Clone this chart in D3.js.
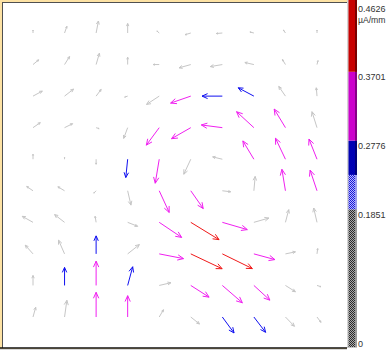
<!DOCTYPE html>
<html>
<head>
<meta charset="utf-8">
<script src="https://cdn.jsdelivr.net/npm/d3@7"></script>
<style>
  html, body { margin: 0; padding: 0; background: #fff; }
  svg { display: block; }
</style>
</head>
<body>
<svg id="chart" width="387" height="350"></svg>
<script>
// Grid of measurement points (mm); rows listed top to bottom
const colX = [1, 2, 3, 4, 5, 6, 7, 8, 9, 10];
const rowY = [10, 9, 8, 7, 6, 5, 4, 3, 2, 1];

// Current density components (µA/mm), u = horizontal, v = vertical (up positive)
const u = [
  [0.000, 0.031, 0.031, 0.000, -0.031, -0.076, -0.080, -0.053, -0.027, 0.000],
  [0.076, 0.067, 0.044, 0.000, -0.080, -0.156, -0.160, -0.120, -0.040, 0.013],
  [0.124, 0.120, 0.067, -0.040, -0.169, -0.269, -0.271, -0.209, -0.089, -0.009],
  [0.097, 0.107, 0.040, -0.053, -0.172, -0.257, -0.280, -0.231, -0.150, -0.067],
  [0.000, 0.000, 0.000, -0.025, -0.053, -0.093, -0.129, -0.147, -0.133, -0.107],
  [-0.084, -0.089, -0.031, 0.044, 0.133, 0.166, 0.111, 0.017, -0.047, -0.092],
  [-0.143, -0.133, -0.013, 0.133, 0.299, 0.377, 0.333, 0.200, 0.044, -0.044],
  [-0.103, -0.080, 0.000, 0.156, 0.324, 0.418, 0.400, 0.280, 0.133, 0.009],
  [0.000, 0.000, 0.000, 0.067, 0.156, 0.244, 0.267, 0.213, 0.133, 0.053],
  [0.036, 0.031, 0.000, 0.000, 0.057, 0.116, 0.156, 0.156, 0.120, 0.053]
];
const v = [
  [0.040, 0.089, 0.160, 0.127, 0.027, -0.023, -0.007, 0.013, 0.040, 0.040],
  [0.063, 0.107, 0.151, 0.097, 0.000, -0.044, -0.027, 0.027, 0.067, 0.053],
  [0.067, 0.093, 0.089, -0.013, -0.111, -0.093, 0.000, 0.111, 0.129, 0.111],
  [0.067, 0.053, -0.013, -0.143, -0.233, -0.147, 0.036, 0.213, 0.248, 0.213],
  [0.067, 0.027, -0.067, -0.244, -0.320, -0.200, 0.031, 0.244, 0.280, 0.269],
  [0.057, 0.053, -0.031, -0.191, -0.289, -0.237, -0.013, 0.191, 0.286, 0.275],
  [0.080, 0.103, 0.080, -0.053, -0.201, -0.231, -0.097, 0.057, 0.169, 0.191],
  [0.116, 0.183, 0.240, 0.124, -0.063, -0.198, -0.196, -0.076, 0.027, 0.071],
  [0.133, 0.240, 0.324, 0.249, 0.036, -0.156, -0.231, -0.196, -0.084, -0.017],
  [0.129, 0.223, 0.329, 0.284, 0.097, -0.093, -0.213, -0.204, -0.124, -0.071]
];

// Colour legend
const legendBreaks = [0, 0.1851, 0.2314, 0.2776, 0.3701, 0.4626];
const tickValues = [0.4626, 0.3701, 0.2776, 0.1851, 0];
const unitLabel = "µA/mm";

const svg = d3.select("#chart");

// Frame: tan window edge, sunken white plot panel
svg.append("rect").attr("x", 0).attr("y", 0).attr("width", 347).attr("height", 350).attr("fill", "#fde2a4");
svg.append("rect").attr("x", 2).attr("y", 2).attr("width", 345).attr("height", 346).attr("fill", "#ffffff");
svg.append("line").attr("x1", 2.5).attr("x2", 2.5).attr("y1", 2).attr("y2", 348).attr("stroke", "#505050").attr("stroke-width", 1);
svg.append("line").attr("x1", 2).attr("x2", 347).attr("y1", 2.5).attr("y2", 2.5).attr("stroke", "#505050").attr("stroke-width", 1);
svg.append("line").attr("x1", 0).attr("x2", 347).attr("y1", 348).attr("y2", 348).attr("stroke", "#111").attr("stroke-width", 1.5);
svg.append("rect").attr("x", 0).attr("y", 349).attr("width", 347).attr("height", 1).attr("fill", "#d8d8d8");

// Scales
const x = d3.scaleLinear().domain([1, 10]).range([33, 317]);
const y = d3.scaleLinear().domain([1, 10]).range([317, 33]);
const len = d3.scaleLinear().domain([0, 1]).range([0, 75]);
const colour = d3.scaleThreshold()
  .domain([0.2314, 0.2776, 0.3701])
  .range(["#c6c6c6", "#1010f0", "#f020f0", "#f01818"]);

// Flatten the grid
const vectors = [];
rowY.forEach((ry, r) => {
  colX.forEach((cx, c) => {
    const mag = Math.hypot(u[r][c], v[r][c]);
    vectors.push({ x0: x(cx), y0: y(ry), u: u[r][c], v: v[r][c], mag });
  });
});

function arrowPath(d) {
  const L = len(d.mag);
  if (L === 0) return "";
  const ang = Math.atan2(-d.v, d.u);
  const x1 = d.x0 + L * Math.cos(ang);
  const y1 = d.y0 + L * Math.sin(ang);
  const h = Math.min(6.5, L * 0.3);
  const spread = 24 * Math.PI / 180;
  const a1 = ang + Math.PI - spread, a2 = ang + Math.PI + spread;
  return `M${d.x0},${d.y0}L${x1},${y1}` +
    `M${x1 + h * Math.cos(a1)},${y1 + h * Math.sin(a1)}L${x1},${y1}` +
    `L${x1 + h * Math.cos(a2)},${y1 + h * Math.sin(a2)}`;
}

svg.append("g")
  .selectAll("path")
  .data(vectors.sort((a, b) => a.mag - b.mag))
  .join("path")
  .attr("d", arrowPath)
  .attr("fill", "none")
  .attr("stroke", d => colour(d.mag))
  .attr("stroke-width", 1)
  .attr("stroke-linejoin", "miter");

// Colour bar
const yb = d3.scaleLinear().domain([0, 0.4626]).range([347, 3]);
const defs = svg.append("defs");
function checker(id, dark, light) {
  const p = defs.append("pattern").attr("id", id).attr("patternUnits", "userSpaceOnUse")
    .attr("width", 2).attr("height", 2);
  p.append("rect").attr("width", 2).attr("height", 2).attr("fill", light);
  p.append("rect").attr("width", 1).attr("height", 1).attr("fill", dark);
  p.append("rect").attr("x", 1).attr("y", 1).attr("width", 1).attr("height", 1).attr("fill", dark);
}
checker("chkGray", "#2a2a2a", "#a8a8a8");
checker("chkBlue", "#1818d8", "#b8b8ff");

const barSegs = [
  { lo: legendBreaks[0], hi: legendBreaks[1], fill: "url(#chkGray)", dark: "#9a9a9a" },
  { lo: legendBreaks[1], hi: legendBreaks[2], fill: "url(#chkBlue)", dark: "#9a9aee" },
  { lo: legendBreaks[2], hi: legendBreaks[3], fill: "#0000b4", dark: "#000078" },
  { lo: legendBreaks[3], hi: legendBreaks[4], fill: "#cc00cc", dark: "#860086" },
  { lo: legendBreaks[4], hi: legendBreaks[5], fill: "#c80000", dark: "#7a0000" }
];
const bar = svg.append("g");
const segTop = d => d.hi === legendBreaks[legendBreaks.length - 1] ? 0 : yb(d.hi);
bar.selectAll("rect.body").data(barSegs).join("rect").attr("class", "body")
  .attr("x", 347).attr("width", 10)
  .attr("y", segTop)
  .attr("height", d => yb(d.lo) - segTop(d))
  .attr("fill", d => d.fill);
bar.selectAll("rect.shade").data(barSegs).join("rect").attr("class", "shade")
  .attr("x", 355).attr("width", 2)
  .attr("y", segTop)
  .attr("height", d => yb(d.lo) - segTop(d))
  .attr("fill", d => d.dark);
bar.append("rect").attr("x", 347).attr("y", 0).attr("width", 1.5).attr("height", yb(0))
  .attr("fill", "#d4d4d4");
bar.append("rect").attr("x", 347).attr("y", yb(0)).attr("width", 10).attr("height", 1)
  .attr("fill", "#c8c8c8");

// Tick labels
const labels = svg.append("g")
  .attr("font-family", "'Liberation Sans', Arial, sans-serif")
  .attr("font-size", 9)
  .attr("fill", "#333");
labels.selectAll("text.tick").data(tickValues).join("text").attr("class", "tick")
  .attr("x", 358)
  .attr("y", d => Math.min(yb(d) + 8.5, 346.5))
  .text(d => d === 0 ? "0" : d3.format(".4f")(d));
labels.append("text").attr("x", 358).attr("y", yb(tickValues[0]) + 19.5)
  .attr("textLength", 27.5).attr("lengthAdjust", "spacingAndGlyphs")
  .text(unitLabel);
</script>
</body>
</html>
